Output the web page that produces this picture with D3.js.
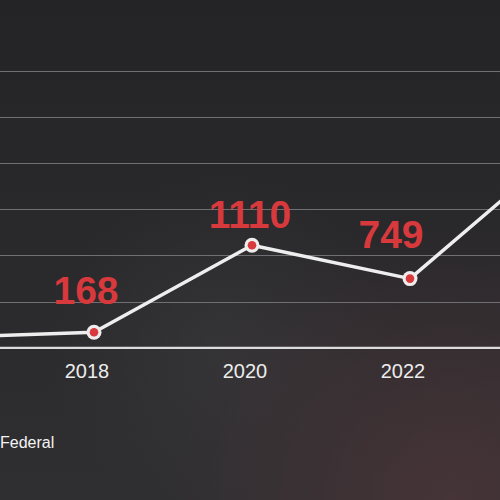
<!DOCTYPE html>
<meta charset="utf-8">
<title>Federal</title>
<style>
  body { margin: 0; background-color: #2a292b; }
  svg { display: block; }
  text { font-family: "Liberation Sans", Arial, sans-serif; }
</style>
<body>
<script src="https://d3js.org/d3.v7.min.js"></script>
<script>

// data (2016 and 2024 run off the edges)
const years = [2016, 2018, 2020, 2022, 2024];
const federal = [110, 168, 1110, 749, 2210];
const labelledYears = [2018, 2020, 2022];
const gridValues = [500, 1000, 1500, 2000, 2500, 3000];
const seriesName = "Federal";

// hand nudges for the big red value labels
const labelNudge = { 2018: [-8, -28], 2020: [-2, -17], 2022: [-19, -31] };

var width = 500,
  height = 500;

var svg = d3.select("body").append("svg")
    .attr("width", width)
    .attr("height", height);

// background: dark with a faint reddish glow low right
var defs = svg.append("defs");
var glow = defs.append("radialGradient").attr("id", "glow")
    .attr("cx", "0.9").attr("cy", "1").attr("r", "0.55");
glow.append("stop").attr("offset", "0").attr("stop-color", "#4a3538").attr("stop-opacity", 0.85);
glow.append("stop").attr("offset", "1").attr("stop-color", "#4a3538").attr("stop-opacity", 0);

var swirl = defs.append("radialGradient").attr("id", "swirl")
    .attr("cx", "0.45").attr("cy", "0.7").attr("r", "0.35");
swirl.append("stop").attr("offset", "0").attr("stop-color", "#3a393c").attr("stop-opacity", 0.6);
swirl.append("stop").attr("offset", "1").attr("stop-color", "#3a393c").attr("stop-opacity", 0);

var topShade = defs.append("linearGradient").attr("id", "topShade")
    .attr("x1", 0).attr("y1", 0).attr("x2", 0).attr("y2", 1);
topShade.append("stop").attr("offset", "0").attr("stop-color", "#242325");
topShade.append("stop").attr("offset", "1").attr("stop-color", "#2f2e31");

svg.append("rect").attr("width", width).attr("height", height).attr("fill", "url(#topShade)");
svg.append("rect").attr("width", width).attr("height", height).attr("fill", "url(#swirl)");
svg.append("rect").attr("width", width).attr("height", height).attr("fill", "url(#glow)");

var x = d3.scaleLinear()
    .domain([2018, 2022])
    .range([94, 410]);

var y = d3.scaleLinear()
    .domain([0, 3000])
    .range([347.8, 70.6]);

// gridlines
svg.append("g")
  .selectAll("line")
    .data(gridValues)
  .enter().append("line")
    .attr("x1", 0)
    .attr("x2", width)
    .attr("y1", d => Math.round(y(d)) + 0.5)
    .attr("y2", d => Math.round(y(d)) + 0.5)
    .style("stroke", "#707072")
    .style("stroke-width", 1.2);

// baseline
svg.append("line")
    .attr("x1", 0)
    .attr("x2", width)
    .attr("y1", y(0))
    .attr("y2", y(0))
    .style("stroke", "#dcdcdc")
    .style("stroke-width", 2.2);

// x axis labels
svg.append("g")
  .selectAll("text")
    .data(labelledYears)
  .enter().append("text")
    .attr("x", d => x(d) - 7)
    .attr("y", 378)
    .attr("text-anchor", "middle")
    .style("fill", "#ececec")
    .style("font-size", "20px")
    .text(d => d);

var points = years.map((yr, i) => ({ year: yr, value: federal[i] }));

var line = d3.line()
    .x(d => x(d.year))
    .y(d => y(d.value));

svg.append("path")
    .datum(points)
    .attr("d", line)
    .style("fill", "none")
    .style("stroke", "#eeeeee")
    .style("stroke-width", 3.5)
    .style("stroke-linejoin", "round");

var shown = points.filter(d => labelledYears.includes(d.year));

svg.append("g")
  .selectAll("circle")
    .data(shown)
  .enter().append("circle")
    .attr("cx", d => x(d.year))
    .attr("cy", d => y(d.value))
    .attr("r", 7.5)
    .style("fill", "#f0ecec");

svg.append("g")
  .selectAll("circle")
    .data(shown)
  .enter().append("circle")
    .attr("cx", d => x(d.year))
    .attr("cy", d => y(d.value))
    .attr("r", 4.3)
    .style("fill", "#d8393d");

// value labels
svg.append("g")
  .selectAll("text")
    .data(shown)
  .enter().append("text")
    .attr("x", d => x(d.year) + labelNudge[d.year][0])
    .attr("y", d => y(d.value) + labelNudge[d.year][1])
    .attr("text-anchor", "middle")
    .style("fill", "#d8393d")
    .style("font-size", "39px")
    .style("font-weight", "bold")
    .text(d => d.value);

// legend entry, its swatch sits off the left edge
svg.append("text")
    .attr("x", 0)
    .attr("y", 448)
    .style("fill", "#f4f4f4")
    .style("font-size", "16px")
    .text(seriesName);

</script>
